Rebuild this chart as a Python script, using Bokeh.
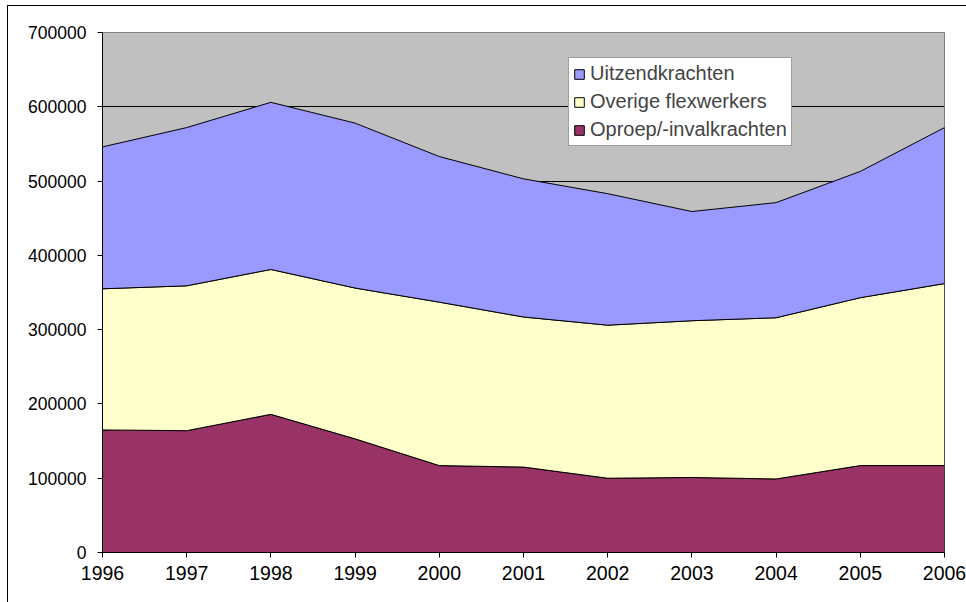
from bokeh.plotting import figure
from bokeh.models import FixedTicker, Legend, LegendItem, NumeralTickFormatter
from bokeh.embed import file_html
from bokeh.resources import INLINE

years = [1996, 1997, 1998, 1999, 2000, 2001, 2002, 2003, 2004, 2005, 2006]
oproep = [165000, 164000, 186000, 153000, 117000, 115000, 100000, 101000, 99000, 117000, 117000]
overige = [190000, 195000, 195000, 203000, 220000, 202000, 206000, 211000, 217000, 226000, 245000]
uitzend = [191000, 213000, 225000, 222000, 196000, 186000, 177000, 147000, 155000, 170000, 210000]
series_names = ["Oproep/-invalkrachten", "Overige flexwerkers", "Uitzendkrachten"]
colors = ["#993366", "#FFFFCC", "#9999FF"]
y_ticks = [0, 100000, 200000, 300000, 400000, 500000, 600000, 700000]

FONT = "Liberation Sans"

p = figure(width=959, height=597, output_backend="svg", toolbar_location=None,
           x_range=(1996, 2006), y_range=(0, 700000),
           min_border_left=94, min_border_right=23, min_border_top=26, min_border_bottom=51)
p.margin = (5, 0, 0, 7)
p.styles = {"border-left": "1px solid black", "border-top": "1px solid black",
            "box-sizing": "border-box"}
p.background_fill_color = "#C0C0C0"
p.border_fill_color = "white"
p.outline_line_color = "#808080"

# stacked layers
bottoms = [0] * len(years)
renderers = []
for vals, name, col in zip([oproep, overige, uitzend], series_names, colors):
    tops = [b + v for b, v in zip(bottoms, vals)]
    xs = years + years[::-1]
    ys = tops + bottoms[::-1]
    r = p.patch(xs, ys, fill_color=col, line_color="black", line_width=1)
    renderers.append(r)
    bottoms = tops

p.xaxis.ticker = FixedTicker(ticks=years)
p.yaxis.ticker = FixedTicker(ticks=y_ticks)
p.yaxis.formatter = NumeralTickFormatter(format="0")
p.xgrid.visible = False
p.ygrid.ticker = FixedTicker(ticks=y_ticks[1:-1])
p.ygrid.grid_line_color = "black"
p.ygrid.grid_line_width = 1

for ax in (p.xaxis, p.yaxis):
    ax.axis_line_color = "black"
    ax.major_tick_line_color = "black"
    ax.major_tick_out = 5
    ax.major_tick_in = 0
    ax.minor_tick_line_color = None
    ax.major_label_text_font = FONT
    ax.major_label_text_color = "black"
p.yaxis.major_label_text_font_size = "17.5px"
p.xaxis.major_label_text_font_size = "19.5px"
p.yaxis.major_label_standoff = 11
p.xaxis.major_label_standoff = 8

legend = Legend(items=[LegendItem(label=series_names[2], renderers=[renderers[2]]),
                       LegendItem(label=series_names[1], renderers=[renderers[1]]),
                       LegendItem(label=series_names[0], renderers=[renderers[0]])],
                location=(466, 406))
legend.glyph_width = 12
legend.glyph_height = 12
legend.label_text_font = FONT
legend.label_text_font_size = "20px"
legend.label_standoff = 5
legend.spacing = 5
legend.padding = 4
legend.margin = 0
legend.border_line_color = "#404040"
legend.border_line_width = 1
legend.background_fill_color = "white"
legend.background_fill_alpha = 1
legend.label_height = 20
p.add_layout(legend, "center")

open("out.html", "w").write(file_html(p, INLINE))
